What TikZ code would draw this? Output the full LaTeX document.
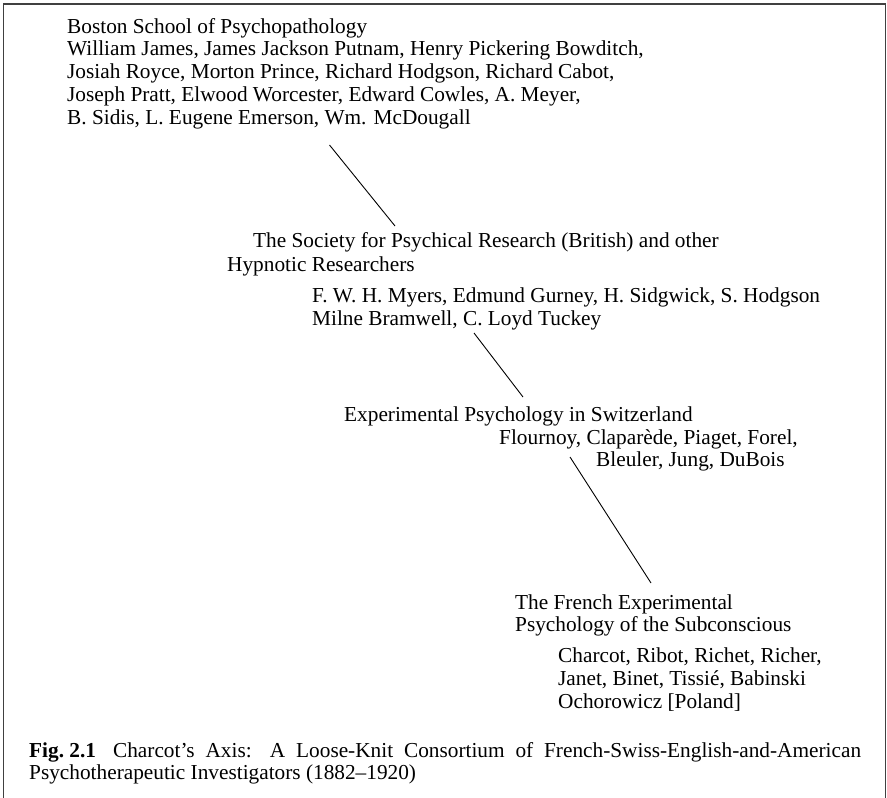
\documentclass[tikz,border=0pt]{standalone}
\usepackage{fontspec}
\setmainfont{Liberation Serif}
\tikzset{
  txt/.style={anchor=base west,inner sep=0pt,align=left,font=\fontsize{21.3}{22.7}\selectfont},
  link/.style={line width=0.9pt,black},
  frame/.style={line width=1.4pt,black!75}
}
\begin{document}
\begin{tikzpicture}[x=1pt,y=-1pt]
\useasboundingbox (0,0) rectangle (887,798);
%\draw[red] (0,0) rectangle (887,798);
\draw[frame] (3.5,798) -- (3.5,4) -- (885.5,4) -- (885.5,798);
% multi-line nodes sit on the baseline of their last line
\node[txt] (boston) at (67,33) {Boston School of Psychopathology};
\node[txt] (bostonnames) at (67,124) {William James, James Jackson Putnam, Henry Pickering Bowditch,\\
Josiah Royce, Morton Prince, Richard Hodgson, Richard Cabot,\\
Joseph Pratt, Elwood Worcester, Edward Cowles, A. Meyer,\\
B. Sidis, L. Eugene Emerson, Wm. McDougall};
\node[txt,font=\fontsize{21.3}{24}\selectfont] (spr) at (227,271.7) {\hspace*{26pt}The Society for Psychical Research (British) and other\\
Hypnotic Researchers};
\node[txt] (sprnames) at (312,325) {F. W. H. Myers, Edmund Gurney, H. Sidgwick, S. Hodgson\\
Milne Bramwell, C. Loyd Tuckey};
\node[txt] (swiss) at (344,421) {Experimental Psychology in Switzerland};
\node[txt] (swissnames) at (499,466.7) {Flournoy, Claparède, Piaget, Forel,\\
\hspace*{97pt}Bleuler, Jung, DuBois};
\node[txt] (french) at (515,631.7) {The French Experimental\\
Psychology of the Subconscious};
\node[txt] (frenchnames) at (558,708) {Charcot, Ribot, Richet, Richer,\\
Janet, Binet, Tissié, Babinski\\
Ochorowicz [Poland]};
% caption is a justified paragraph (base = first line here)
\node[txt,text width=832pt,align=justify] (caption) at (29,757) {\mbox{\textbf{Fig.\ 2.1}}\hspace{0.8em}Charcot’s Axis: A Loose-Knit Consortium of French-Swiss-English-and-American\linebreak
Psychotherapeutic Investigators (1882--1920)};
% connectors
\coordinate (a1) at (329.5,145);
\coordinate (a2) at (395,226);
\coordinate (b1) at (474,333);
\coordinate (b2) at (523,397);
\coordinate (c1) at (570,457);
\coordinate (c2) at (651,583);
\draw[link] (a1) -- (a2);
\draw[link] (b1) -- (b2);
\draw[link] (c1) -- (c2);
\end{tikzpicture}
\end{document}
